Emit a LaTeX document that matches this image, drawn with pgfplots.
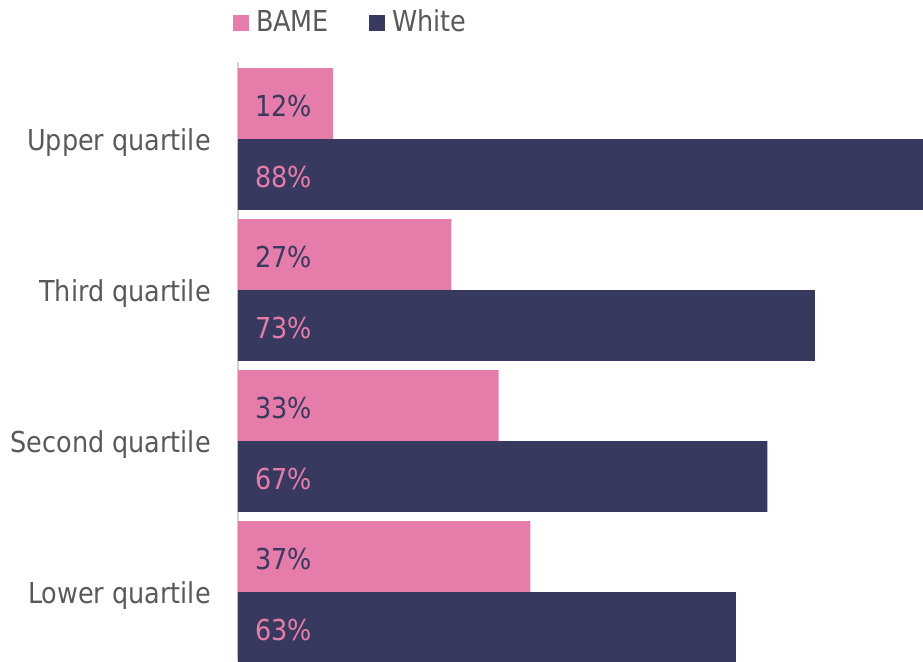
\documentclass[border=0pt]{standalone}
\usepackage{fontspec}
\setmainfont{DejaVu Sans}[FakeStretch=0.885]
\usepackage{pgfplots}
\pgfplotsset{compat=1.18}
\definecolor{bame}{HTML}{E67CA9}
\definecolor{navy}{HTML}{38395E}
\definecolor{txt}{HTML}{595959}
\definecolor{axl}{HTML}{D0D0D0}
\newcommand{\bigf}{\fontsize{21.6pt}{26pt}\selectfont}
\begin{document}
\bigf
\begin{tikzpicture}
\begin{axis}[
  scale only axis, width=513.75pt, height=449.25pt,
  xmin=0, xmax=86.7, ymin=-0.457, ymax=3.51,
  axis x line=none, axis y line*=left,
  y axis line style={-, draw=axl, line width=1.8pt},
  ytick={0,1,2,3},
  yticklabels={Lower quartile, Second quartile, Third quartile, Upper quartile},
  major tick length=0pt,
  yticklabel style={anchor=base east, inner sep=0pt, xshift=-20.25pt, yshift=-8.25pt, text=txt, font=\bigf},
  legend columns=2,
  legend style={draw=none, fill=none, inner sep=0pt, outer sep=0pt,
    at={(axis description cs:-0.0073,1.0651)}, anchor=west,
    text=txt, font=\bigf, nodes={inner sep=0pt},
    /tikz/every odd column/.append style={column sep=5.25pt},
    /tikz/every even column/.append style={column sep=30pt}},
]
\addplot[xbar, bar width=0.47, bar shift=0.235, fill=bame, draw=none,
  legend image code/.code={\fill[bame] (0pt,-6pt) rectangle (12pt,6pt);}]
  coordinates {(37,0) (33,1) (27,2) (12,3)};
\addlegendentry{BAME}
\addplot[xbar, bar width=0.47, bar shift=-0.235, fill=navy, draw=none,
  legend image code/.code={\fill[navy] (0pt,-6pt) rectangle (12pt,6pt);}]
  coordinates {(63,0) (67,1) (73,2) (88,3)};
\addlegendentry{White}
\addplot[forget plot, draw=none, nodes near coords, point meta=explicit symbolic,
  every node near coord/.append style={anchor=base west, inner sep=0pt, xshift=12.75pt, yshift=-9.4pt, text=navy, font=\bigf}]
  coordinates {(0,0.235)[37\%] (0,1.235)[33\%] (0,2.235)[27\%] (0,3.235)[12\%]};
\addplot[forget plot, draw=none, nodes near coords, point meta=explicit symbolic,
  every node near coord/.append style={anchor=base west, inner sep=0pt, xshift=12.75pt, yshift=-9.4pt, text=bame, font=\bigf}]
  coordinates {(0,-0.235)[63\%] (0,0.765)[67\%] (0,1.765)[73\%] (0,2.765)[88\%]};
\end{axis}
\pgfresetboundingbox
\path[use as bounding box] ([xshift=-178.5pt]current axis.south west) rectangle ([yshift=46.5pt]current axis.north east);
\end{tikzpicture}
\end{document}
